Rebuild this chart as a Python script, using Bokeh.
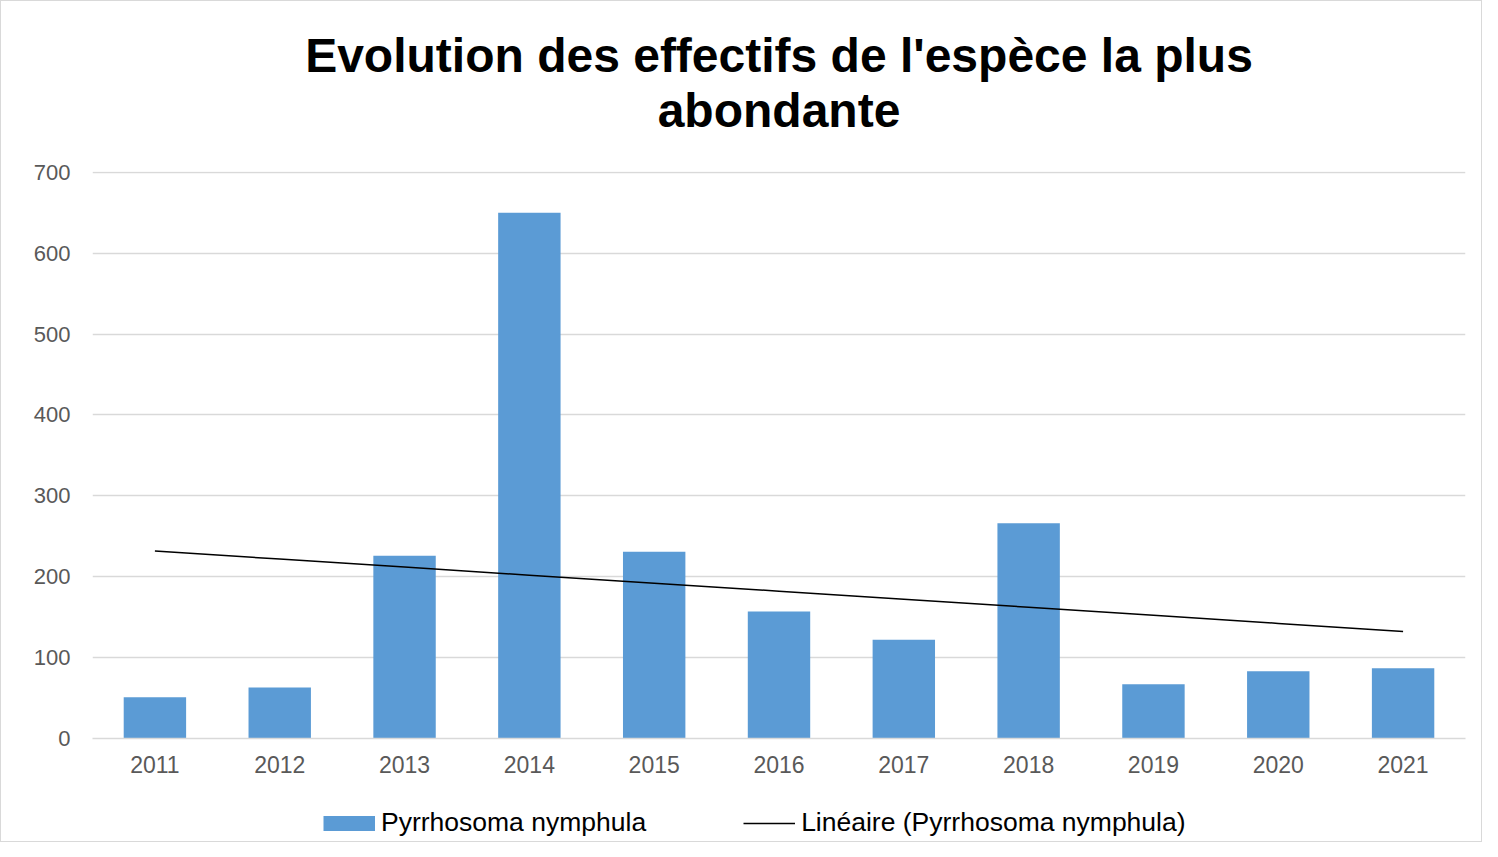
import numpy as np
from bokeh.plotting import figure
from bokeh.layouts import column
from bokeh.models import (ColumnDataSource, FixedTicker, Legend, LegendItem, Title, Range1d)
from bokeh.embed import file_html
from bokeh.resources import INLINE

# ---- data ----
years = ["2011", "2012", "2013", "2014", "2015", "2016", "2017", "2018", "2019", "2020", "2021"]
counts = [51, 63, 226, 650, 231, 157, 122, 266, 67, 83, 87]
series_name = "Pyrrhosoma nymphula"
trend_name = "Linéaire (Pyrrhosoma nymphula)"
title_line1 = "Evolution des effectifs de l'espèce la plus"
title_line2 = "abondante"
y_ticks = [0, 100, 200, 300, 400, 500, 600, 700]

# linear trend (least squares on year index)
idx = np.arange(len(years))
slope, intercept = np.polyfit(idx, np.array(counts, dtype=float), 1)
trend = list(intercept + slope * idx)

src = ColumnDataSource(dict(year=years, count=counts, trend=trend))

FONT = "Liberation Sans"
BAR = "#5b9bd5"
W = 1480

p = figure(x_range=years, y_range=Range1d(0, 701), width=W, height=782,
           output_backend="svg", toolbar_location=None,
           min_border_left=91, min_border_right=16, min_border_top=170, min_border_bottom=45)
p.outline_line_color = None
p.background_fill_color = "white"
p.border_fill_color = "white"

bars = p.vbar(x="year", top="count", width=0.5, source=src,
              fill_color=BAR, line_color=None)
line = p.line(x="year", y="trend", source=src, line_color="black", line_width=1.5)

# axes
p.yaxis.ticker = FixedTicker(ticks=y_ticks)
p.yaxis.axis_line_color = None
p.yaxis.major_tick_line_color = None
p.yaxis.minor_tick_line_color = None
p.yaxis.major_label_text_font = FONT
p.yaxis.major_label_text_font_size = "22px"
p.yaxis.major_label_text_color = "#595959"
p.yaxis.major_label_standoff = 16

p.xaxis.axis_line_color = "#d9d9d9"
p.xaxis.axis_line_width = 1.5
p.xaxis.major_tick_line_color = None
p.xaxis.minor_tick_line_color = None
p.xaxis.major_label_text_font = FONT
p.xaxis.major_label_text_font_size = "23px"
p.xaxis.major_label_text_color = "#595959"
p.xaxis.major_label_standoff = 11

p.xgrid.grid_line_color = None
p.ygrid.grid_line_color = "#d9d9d9"
p.ygrid.grid_line_width = 1.5

# titles (later added = farther from plot)
spacer = Title(text=" ", text_font=FONT, text_font_size="30px", standoff=0)
t2 = Title(text=title_line2, align="center", text_font=FONT, text_font_size="48px",
           text_font_style="bold", text_color="black", standoff=0)
t1 = Title(text=title_line1, align="center", text_font=FONT, text_font_size="48px",
           text_font_style="bold", text_color="black", standoff=0)
p.add_layout(spacer, "above")
p.add_layout(t2, "above")
p.add_layout(t1, "above")

# legend strip below the chart (legend-only renderers, nothing drawn in the strip)
lf = figure(width=W, height=58, x_range=Range1d(0, 1), y_range=Range1d(0, 1),
            output_backend="svg", toolbar_location=None,
            min_border=0, min_border_left=0, min_border_right=0,
            min_border_top=0, min_border_bottom=0)
lf.axis.visible = False
lf.grid.visible = False
lf.outline_line_color = None
lf.border_fill_color = "white"
sw_bar = lf.line(x=[np.nan], y=[np.nan], line_color=BAR, line_width=15, line_cap="butt")
sw_line = lf.line(x=[np.nan], y=[np.nan], line_color="black", line_width=1.5)
legend = Legend(items=[LegendItem(label=series_name, renderers=[sw_bar]),
                       LegendItem(label=trend_name, renderers=[sw_line])],
                orientation="horizontal", location=(231, 3), spacing=97,
                glyph_width=52, glyph_height=16, label_standoff=6,
                label_text_font=FONT, label_text_font_size="26.5px", label_text_color="black",
                border_line_color=None, background_fill_alpha=0, margin=0, padding=0)
lf.add_layout(legend, "center")

layout = column(p, lf, spacing=0, styles={"border": "1px solid #d9d9d9", "gap": "0px"})

open("out.html", "w").write(file_html(layout, INLINE))
